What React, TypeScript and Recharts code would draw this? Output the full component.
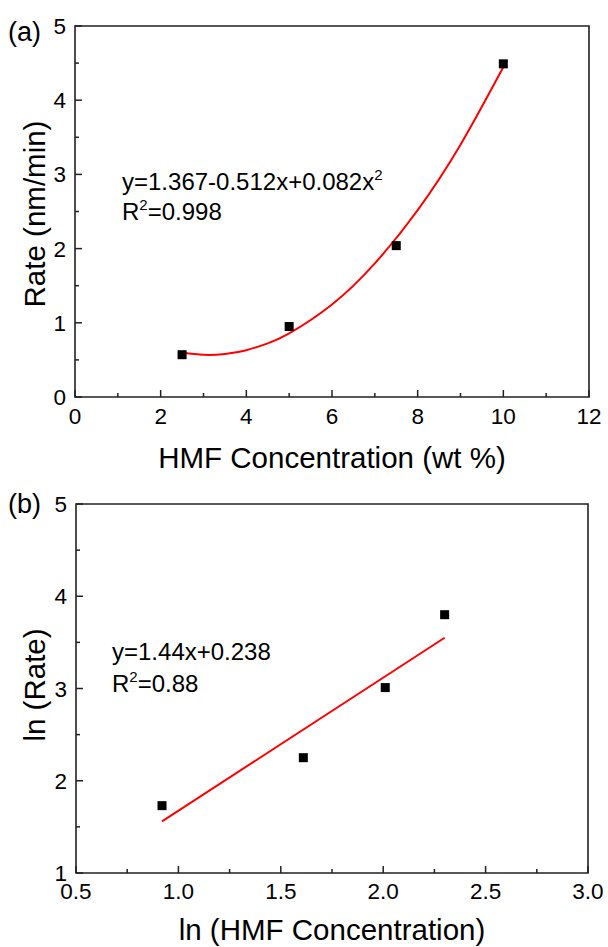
import { ComposedChart, XAxis, YAxis, Line, Scatter, ReferenceArea } from 'recharts'

// (a) rate vs HMF concentration
const concA = [2.5, 5, 7.5, 10]
const rateA = [0.57, 0.95, 2.04, 4.49]
// quadratic fit curve
const fitAX = [2.5, 3, 3.5, 4, 4.5, 5, 6, 7, 8, 9, 10]
const fitAY = [0.6, 0.569, 0.58, 0.631, 0.723, 0.857, 1.247, 1.801, 2.519, 3.401, 4.447]
const ticksAX = [0, 1, 2, 3, 4, 5, 6, 7, 8, 9, 10, 11, 12]
const ticksAY = [0, 0.5, 1, 1.5, 2, 2.5, 3, 3.5, 4, 4.5, 5]

// (b) ln(rate) vs ln(concentration)
const lnConcB = [0.92, 1.61, 2.01, 2.3]
const lnRateB = [1.73, 2.25, 3.01, 3.8]
const fitBX = [0.92, 2.3]
const fitBY = [1.56, 3.55]
const ticksBX = [0.5, 0.75, 1, 1.25, 1.5, 1.75, 2, 2.25, 2.5, 2.75, 3]
const ticksBY = [1, 1.5, 2, 2.5, 3, 3.5, 4, 4.5, 5]

const FONT = '"Liberation Sans", Arial, sans-serif'
const AXIS = '#222'

const toPts = (xs: number[], ys: number[]) => xs.map((x, i) => ({ x, y: ys[i] }))

const isInt = (v: number) => Math.abs(v - Math.round(v)) < 1e-6
const isEven = (v: number) => isInt(v) && Math.round(v) % 2 === 0
const isHalf = (v: number) => isInt(v * 2)

function XTick(props: any) {
  const { x, y, payload, major, fmt, labelDy } = props
  const v = payload.value
  const big = major(v)
  return (
    <g>
      <line x1={x} x2={x} y1={y} y2={y - (big ? 7 : 4)} stroke={AXIS} strokeWidth={1.5} />
      {big && (
        <text x={x} y={y + labelDy} textAnchor="middle" fontSize={22.5} fontFamily={FONT} fill="#000">
          {fmt(v)}
        </text>
      )}
    </g>
  )
}

function YTick(props: any) {
  const { x, y, payload, major } = props
  const v = payload.value
  const big = major(v)
  return (
    <g>
      <line x1={x} x2={x + (big ? 7 : 4)} y1={y} y2={y} stroke={AXIS} strokeWidth={1.5} />
      {big && (
        <text x={x - 9} y={y + 8} textAnchor="end" fontSize={22.5} fontFamily={FONT} fill="#000">
          {String(v)}
        </text>
      )}
    </g>
  )
}

const square = (p: any) => <rect x={p.cx - 4.5} y={p.cy - 4.5} width={9} height={9} fill="#000" />

interface PanelProps {
  points: { x: number; y: number }[]
  fit: { x: number; y: number }[]
  xDomain: [number, number]
  yDomain: [number, number]
  xTicks: number[]
  yTicks: number[]
  xMajor: (v: number) => boolean
  xFmt: (v: number) => string
  labelDy: number
  height: number
  margin: { top: number; right: number; bottom: number; left: number }
  yWidth: number
  curve: 'natural' | 'linear'
}

function Panel(p: PanelProps) {
  return (
    <ComposedChart width={608} height={p.height} margin={p.margin}>
      <XAxis
        type="number"
        dataKey="x"
        domain={p.xDomain}
        ticks={p.xTicks}
        interval={0}
        allowDataOverflow
        axisLine={false}
        tickLine={false}
        tickSize={0}
        tickMargin={0}
        height={40}
        tick={(t: any) => <XTick {...t} major={p.xMajor} fmt={p.xFmt} labelDy={p.labelDy} />}
      />
      <YAxis
        type="number"
        dataKey="y"
        domain={p.yDomain}
        ticks={p.yTicks}
        interval={0}
        allowDataOverflow
        axisLine={false}
        tickLine={false}
        tickSize={0}
        tickMargin={0}
        width={p.yWidth}
        tick={(t: any) => <YTick {...t} major={isInt} />}
      />
      <ReferenceArea
        x1={p.xDomain[0]}
        x2={p.xDomain[1]}
        y1={p.yDomain[0]}
        y2={p.yDomain[1]}
        fill="none"
        fillOpacity={0}
        stroke={AXIS}
        strokeWidth={1.6}
      />
      <Line
        data={p.fit}
        dataKey="y"
        type={p.curve}
        stroke="#ff0000"
        strokeWidth={2}
        dot={false}
        isAnimationActive={false}
      />
      <Scatter data={p.points} dataKey="y" shape={square} isAnimationActive={false} />
    </ComposedChart>
  )
}

export default function App() {
  const txt = { fontFamily: FONT, fill: '#000' }
  return (
    <div style={{ position: 'absolute', left: 0, top: 0, width: 608, height: 947, background: '#fff' }}>
      <div style={{ position: 'absolute', left: 0, top: 0 }}>
        <Panel
          points={toPts(concA, rateA)}
          fit={toPts(fitAX, fitAY)}
          xDomain={[0, 12]}
          yDomain={[0, 5]}
          xTicks={ticksAX}
          yTicks={ticksAY}
          xMajor={isEven}
          xFmt={(v) => String(v)}
          labelDy={27}
          height={470}
          margin={{ top: 26, right: 19, bottom: 33, left: 0 }}
          yWidth={75}
          curve="natural"
        />
      </div>
      <div style={{ position: 'absolute', left: 0, top: 470 }}>
        <Panel
          points={toPts(lnConcB, lnRateB)}
          fit={toPts(fitBX, fitBY)}
          xDomain={[0.5, 3]}
          yDomain={[1, 5]}
          xTicks={ticksBX}
          yTicks={ticksBY}
          xMajor={isHalf}
          xFmt={(v) => v.toFixed(1)}
          labelDy={26}
          height={477}
          margin={{ top: 34, right: 20, bottom: 34, left: 0 }}
          yWidth={76}
          curve="linear"
        />
      </div>
      <svg width={608} height={947} style={{ position: 'absolute', left: 0, top: 0, pointerEvents: 'none' }}>
        <text x={8} y={41} fontSize={27} {...txt}>(a)</text>
        <text x={8} y={513} fontSize={27} {...txt}>(b)</text>

        <text x={122} y={190} fontSize={24} {...txt}>
          y=1.367-0.512x+0.082x<tspan fontSize={15} dy={-10}>2</tspan>
        </text>
        <text x={122} y={220} fontSize={24} {...txt}>
          R<tspan fontSize={15} dy={-10}>2</tspan>
          <tspan dy={10}>=0.998</tspan>
        </text>

        <text x={112} y={660} fontSize={24} {...txt}>y=1.44x+0.238</text>
        <text x={112} y={692} fontSize={24} {...txt}>
          R<tspan fontSize={15} dy={-10}>2</tspan>
          <tspan dy={10}>=0.88</tspan>
        </text>

        <text x={332} y={468} fontSize={29.5} textAnchor="middle" {...txt}>HMF Concentration (wt %)</text>
        <text x={332} y={940} fontSize={29.5} textAnchor="middle" {...txt}>ln (HMF Concentration)</text>

        <text x={45} y={214} fontSize={29.5} textAnchor="middle" transform="rotate(-90 45 214)" {...txt}>
          Rate (nm/min)
        </text>
        <text x={45} y={685} fontSize={29.5} textAnchor="middle" transform="rotate(-90 45 685)" {...txt}>
          ln (Rate)
        </text>
      </svg>
    </div>
  )
}
